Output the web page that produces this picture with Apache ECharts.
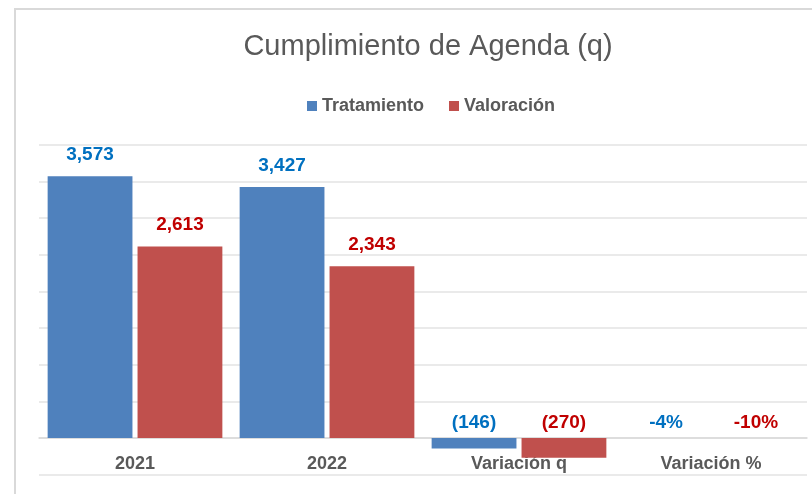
<!DOCTYPE html>
<html>
<head>
<meta charset="utf-8">
<title>Cumplimiento de Agenda (q)</title>
<script src="https://cdn.jsdelivr.net/npm/echarts@6/dist/echarts.min.js"></script>
<style>
    html, body { margin: 0; padding: 0; background: #fff; }
    #chart { width: 812px; height: 494px; }
</style>
</head>
<body>
<div id="chart"></div>
<script>
// categorias del eje x
const categorias = ['2021', '2022', 'Variación q', 'Variación %']
// valores (el ultimo es un porcentaje: -0.04 = -4%)
const tratamiento = [3573, 3427, -146, -0.04]
const valoracion = [2613, 2343, -270, -0.10]
// eje y: de -500 a 4000 cada 500
const ejeMin = -500
const ejeMax = 4000
const ejeIntervalo = 500

const fuente = 'Liberation Sans, Arial, sans-serif'

// alto del grid y posicion del cero (para bajar el eje x hasta el 0)
const gridTop = 145
const gridBottom = 19.5
const altoGrid = 494 - gridTop - gridBottom
const desdeCero = altoGrid * (0 - ejeMin) / (ejeMax - ejeMin)

// formato de las etiquetas segun la categoria
function formato(p) {
    const v = p.value
    if (p.dataIndex === 3) return Math.round(v * 100) + '%'
    if (v < 0) return '(' + Math.abs(v).toLocaleString('en-US') + ')'
    return v.toLocaleString('en-US')
}

function serie(nombre, valores, color, colorTexto) {
    return {
        name: nombre,
        type: 'bar',
        barGap: '6%',
        barCategoryGap: '9%',
        itemStyle: { color: color },
        data: valores.map(v => ({
            value: v,
            label: { distance: v < 0 ? 6 : 12 }
        })),
        label: {
            show: true,
            position: 'top',
            color: colorTexto,
            fontFamily: fuente,
            fontWeight: 'bold',
            fontSize: 19,
            formatter: formato
        }
    }
}

const chart = echarts.init(document.getElementById('chart'))
chart.setOption({
    animation: false,
    textStyle: { fontFamily: fuente },
    // marco del grafico
    graphic: [{
        type: 'rect',
        shape: { x: 15, y: 9, width: 900, height: 600 },
        style: { fill: 'none', stroke: '#d9d9d9', lineWidth: 2 },
        silent: true
    }],
    title: {
        text: 'Cumplimiento de Agenda (q)',
        left: 423,
        top: 27,
        textAlign: 'center',
        textStyle: {
            color: '#595959',
            fontFamily: fuente,
            fontWeight: 'normal',
            fontSize: 29
        }
    },
    legend: {
        left: 302,
        top: 92,
        icon: 'rect',
        itemWidth: 10,
        itemHeight: 10,
        itemGap: 25,
        textStyle: {
            color: '#595959',
            fontFamily: fuente,
            fontWeight: 'bold',
            fontSize: 18
        }
    },
    grid: {
        left: 39,
        right: 5,
        top: gridTop,
        bottom: gridBottom,
        containLabel: false,
        outerBoundsMode: 'none'
    },
    xAxis: {
        type: 'category',
        data: categorias,
        offset: -desdeCero,
        axisTick: { show: false },
        axisLine: { onZero: false, lineStyle: { color: '#d9d9d9', width: 1.5 } },
        axisLabel: {
            margin: 17,
            color: '#595959',
            fontFamily: fuente,
            fontWeight: 'bold',
            fontSize: 18
        }
    },
    yAxis: {
        type: 'value',
        min: ejeMin,
        max: ejeMax,
        interval: ejeIntervalo,
        axisLabel: { show: false },
        axisLine: { show: false },
        axisTick: { show: false },
        splitLine: { lineStyle: { color: '#e3e3e3', width: 1.5 } }
    },
    series: [
        serie('Tratamiento', tratamiento, '#4f81bd', '#0070c0'),
        serie('Valoración', valoracion, '#c0504d', '#c00000')
    ]
})
</script>
</body>
</html>
